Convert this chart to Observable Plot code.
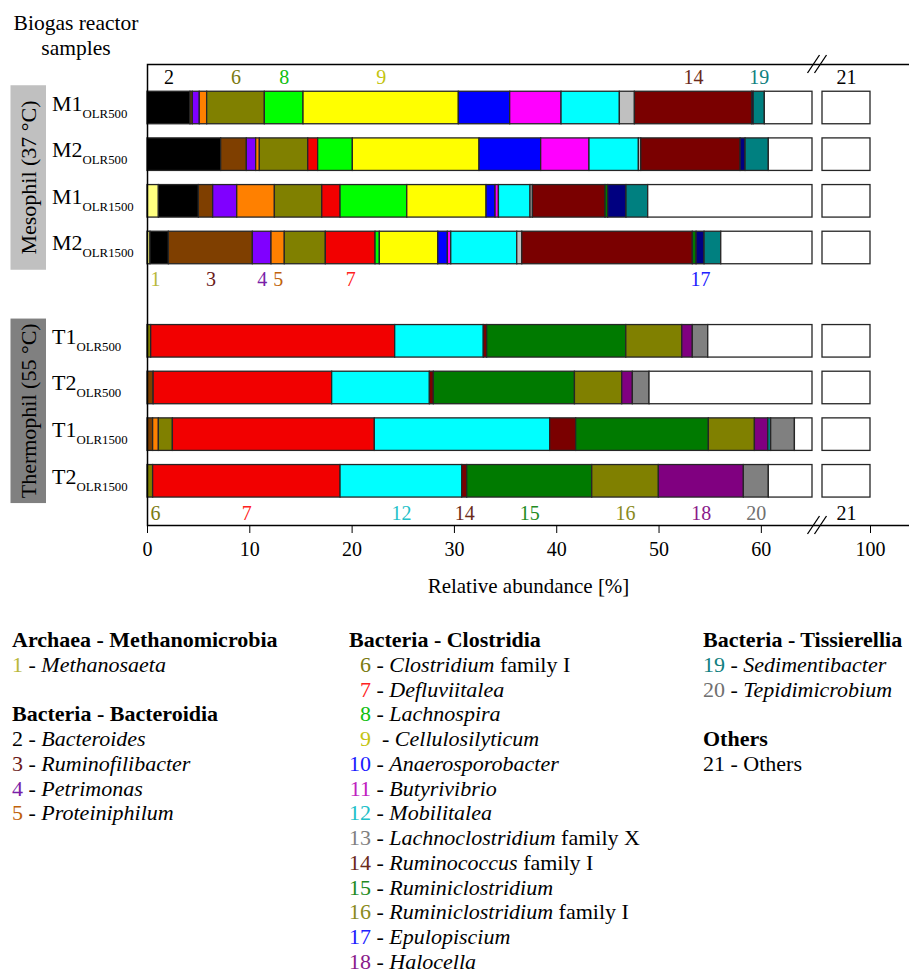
<!DOCTYPE html>
<html>
<head>
<meta charset="utf-8">
<script src="https://cdn.jsdelivr.net/npm/d3@7"></script>
<script src="https://cdn.jsdelivr.net/npm/@observablehq/plot@0.6"></script>
<style>
  body { margin: 0; background: #fff; font-family: "Liberation Serif", "Times New Roman", serif; color: #000; }
  #wrap { position: relative; width: 909px; height: 973px; overflow: hidden; }
  .lg-col { position: absolute; top: 628px; font-size: 22px; line-height: 24.75px; white-space: nowrap; }
  .lg-col .head { font-weight: bold; }
  .lg-col .num2 { display: inline-block; width: 22px; text-align: right; }
  .lg-col i { font-style: italic; }
</style>
</head>
<body>
<div id="wrap">
  <div id="chart"></div>
</div>
<script>
// Reactor samples (top to bottom order of the stacked bars)
const sampleBase = ["M1", "M2", "M1", "M2", "T1", "T2", "T1", "T2"];
const sampleSub = ["OLR500", "OLR500", "OLR1500", "OLR1500", "OLR500", "OLR500", "OLR1500", "OLR1500"];
const samples = sampleBase.map((b, i) => b + "_" + sampleSub[i]);

// Taxa 1–20 (21 = Others)
const taxonIds = [1, 2, 3, 4, 5, 6, 7, 8, 9, 10, 11, 12, 13, 14, 15, 16, 17, 18, 19, 20, 21];
const taxonGenus = ["Methanosaeta", "Bacteroides", "Ruminofilibacter", "Petrimonas", "Proteiniphilum",
  "Clostridium", "Defluviitalea", "Lachnospira", "Cellulosilyticum", "Anaerosporobacter",
  "Butyrivibrio", "Mobilitalea", "Lachnoclostridium", "Ruminococcus", "Ruminiclostridium",
  "Ruminiclostridium", "Epulopiscium", "Halocella", "Sedimentibacter", "Tepidimicrobium", "Others"];
const taxonSuffix = ["", "", "", "", "", "family I", "", "", "", "", "", "", "family X", "family I", "",
  "family I", "", "", "", "", ""];
const fillColors = ["#ffff80", "#000000", "#7f3f00", "#8000ff", "#ff8000", "#808000", "#f20000", "#00ff00",
  "#ffff00", "#0000ff", "#ff00ff", "#00ffff", "#c0c0c0", "#7a0000", "#007a00", "#808000", "#000080",
  "#800080", "#008080", "#808080", "#ffffff"];
const labelColors = ["#b8b83a", "#000000", "#6b1a1a", "#7a1fa8", "#c0620a", "#7a7a10", "#ff2020", "#10c010",
  "#c4c410", "#1a1aff", "#c020c0", "#20c0c8", "#808080", "#6b2a1a", "#228b22", "#8a8a20", "#2020ff",
  "#8a1a8a", "#108080", "#707070", "#000000"];

// Relative abundance [%] of taxa 1–20 per sample
const m1Olr500 = [0, 4.2, 0.23, 0.68, 0.72, 5.64, 0, 3.78, 15.18, 5.02, 5.02, 5.7, 1.47, 11.46, 0, 0, 0.15, 0, 1.09, 0];
const m2Olr500 = [0, 7.2, 2.51, 0.91, 0.36, 4.73, 0.97, 3.39, 12.38, 6.03, 4.72, 4.83, 0.23, 9.71, 0, 0, 0.49, 0, 2.27, 0];
const m1Olr1500 = [1.11, 3.91, 1.4, 2.35, 3.68, 4.63, 1.79, 6.52, 7.75, 0.88, 0.33, 3.09, 0.23, 7.1, 0.26, 0, 1.79, 0, 2.12, 0];
const m2Olr1500 = [0.29, 1.8, 8.21, 1.82, 1.3, 4.01, 4.86, 0.42, 5.71, 0.94, 0.33, 6.45, 0.49, 16.67, 0.37, 0, 0.78, 0, 1.63, 0];
const t1Olr500 = [0, 0, 0, 0, 0, 0.36, 23.85, 0, 0, 0, 0, 8.66, 0, 0.33, 13.6, 5.47, 0, 1.03, 0, 1.51];
const t2Olr500 = [0, 0, 0.6, 0, 0, 0, 17.45, 0, 0, 0, 0, 9.55, 0, 0.39, 13.79, 4.62, 0, 1.04, 0, 1.63];
const t1Olr1500 = [0, 0, 0.55, 0, 0.56, 1.37, 19.74, 0, 0, 0, 0, 17.14, 0, 2.54, 12.97, 4.5, 0, 1.3, 0.29, 2.32];
const t2Olr1500 = [0, 0, 0, 0, 0, 0.55, 18.32, 0, 0, 0, 0, 11.89, 0, 0.49, 12.22, 6.51, 0, 8.31, 0, 2.44];
const abundances = [m1Olr500, m2Olr500, m1Olr1500, m2Olr1500, t1Olr500, t2Olr500, t1Olr1500, t2Olr1500];

// Taxon number labels above / below particular bars
const topLabelTaxa = [2, 6, 8, 9, 14, 19];
const mesoBottomLabelTaxa = [1, 3, 4, 5, 7, 17];
const thermoBottomLabelTaxa = [6, 7, 12, 14, 15, 16, 18, 20];

// x axis ticks and the broken-axis limits
const xTicks = [0, 10, 20, 30, 40, 50, 60, 100];
const BREAK_LO = 65;
const BREAK_HI = 95.3;

// Build stacked segments
const segments = [];
const others = [];
samples.forEach((s, i) => {
  let acc = 0;
  abundances[i].forEach((v, k) => {
    if (v > 0) {
      segments.push({sample: s, taxon: taxonIds[k], x1: acc, x2: acc + v, color: fillColors[k]});
      acc += v;
    }
  });
  // "Others" fills the remainder up to 100 %, split by the axis break
  others.push({sample: s, x1: acc, x2: BREAK_LO}, {sample: s, x1: BREAK_HI, x2: 100});
});

function labelsFor(sample, taxa) {
  return taxa.map(t => {
    const seg = segments.find(d => d.sample === sample && d.taxon === t);
    const lead = seg.x1 === 0 && seg.x2 - seg.x1 < 1;
    return {sample, taxon: t, x: lead ? 0 : (seg.x1 + seg.x2) / 2, lead, color: labelColors[t - 1]};
  });
}
const othersX = (BREAK_HI + 100) / 2;
const topLabels = labelsFor("M1_OLR500", topLabelTaxa)
  .concat([{sample: "M1_OLR500", taxon: 21, x: othersX, lead: false, color: labelColors[20]}]);
const bottomLabels = labelsFor("M2_OLR1500", mesoBottomLabelTaxa)
  .concat(labelsFor("T2_OLR1500", thermoBottomLabelTaxa))
  .concat([{sample: "T2_OLR1500", taxon: 21, x: othersX, lead: false, color: labelColors[20]}]);

const yDomain = samples.slice(0, 4).concat(["gap"], samples.slice(4));

const W = 909, H = 612;
const chart = Plot.plot({
  width: W,
  height: H,
  marginLeft: 147,
  marginRight: 0,
  marginTop: 64,
  marginBottom: H - 525,
  style: {fontFamily: "'Liberation Serif', 'Times New Roman', serif", fontSize: "20px", background: "#fff", color: "#000"},
  x: {
    type: "linear",
    domain: [0, BREAK_LO, BREAK_HI, 100],
    range: [147, 812, 822, 870],
    ticks: xTicks,
    tickSize: 8,
    tickPadding: 8,
    label: null
  },
  y: {type: "band", domain: yDomain, range: [77.1, 511.2], padding: 0.303, round: false, axis: null},
  color: {type: "identity"},
  marks: [
    Plot.barX(segments, {x1: "x1", x2: "x2", y: "sample", fill: "color", stroke: "#262626", strokeWidth: 1.3}),
    Plot.barX(others, {x1: "x1", x2: "x2", y: "sample", fill: "#ffffff", stroke: "#262626", strokeWidth: 1.3}),
    Plot.text(topLabels.filter(d => !d.lead), {x: "x", y: "sample", text: d => String(d.taxon), fill: "color", dy: -30}),
    Plot.text(bottomLabels.filter(d => !d.lead), {x: "x", y: "sample", text: d => String(d.taxon), fill: "color", dy: 32}),
    Plot.text(bottomLabels.filter(d => d.lead), {x: "x", y: "sample", text: d => String(d.taxon), fill: "color", dy: 32, dx: 3, textAnchor: "start"}),
    Plot.frame({stroke: "#000", strokeWidth: 1.5, insetRight: -4}),
    Plot.text(["Relative abundance [%]"], {text: d => d, frameAnchor: "bottom", dy: 67, fontSize: 21})
  ]
});
document.getElementById("chart").appendChild(chart);

// Group boxes, sample labels with subscripts, title and break marks
const svg = d3.select(chart);
const ys = chart.scale("y");
const xs = chart.scale("x");
const bw = ys.bandwidth;
const yOf = s => ys.apply(s);

const lab = svg.append("g")
  .attr("font-family", "'Liberation Serif', 'Times New Roman', serif")
  .attr("text-anchor", "start")
  .attr("fill", "#000");

const groups = [
  {name: "Mesophil (37 °C)", from: samples[0], to: samples[3], fill: "#c0c0c0"},
  {name: "Thermophil (55 °C)", from: samples[4], to: samples[7], fill: "#808080"}
];
groups.forEach(g => {
  const y0 = yOf(g.from) - 6, y1 = yOf(g.to) + bw + 6;
  lab.append("rect").attr("x", 10.5).attr("y", y0).attr("width", 35.5).attr("height", y1 - y0).attr("fill", g.fill);
  lab.append("text").attr("transform", `translate(${29},${(y0 + y1) / 2}) rotate(-90)`)
    .attr("text-anchor", "middle").attr("dy", "0.34em").attr("font-size", 22).text(g.name);
});

samples.forEach((s, i) => {
  const t = lab.append("text").attr("text-anchor", "start")
    .attr("x", 52).attr("y", yOf(s) + bw / 2 + 3).attr("font-size", 22);
  t.append("tspan").text(sampleBase[i]);
  t.append("tspan").attr("font-size", 12.8).attr("dy", 7).text(sampleSub[i]);
});

const title = lab.append("text").attr("text-anchor", "middle").attr("font-size", 21.5);
title.append("tspan").attr("x", 76).attr("y", 30).text("Biogas reactor");
title.append("tspan").attr("x", 76).attr("y", 55).text("samples");

const bx = (xs.apply(BREAK_LO) + xs.apply(BREAK_HI)) / 2;
[64, 525].forEach(yy => {
  [-3.5, 3.5].forEach(off => {
    lab.append("line").attr("x1", bx + off - 6).attr("y1", yy + 9).attr("x2", bx + off + 6).attr("y2", yy - 9)
      .attr("stroke", "#000").attr("stroke-width", 1.3);
  });
});

// Legend
const legendCols = [
  {left: 12, pad: false, rows: [["h", "Archaea - Methanomicrobia"], 1, null, ["h", "Bacteria - Bacteroidia"], 2, 3, 4, 5]},
  {left: 349, pad: true, rows: [["h", "Bacteria - Clostridia"], 6, 7, 8, 9, 10, 11, 12, 13, 14, 15, 16, 17, 18]},
  {left: 703, pad: false, rows: [["h", "Bacteria - Tissierellia"], 19, 20, null, ["h", "Others"], 21]}
];
const wrap = d3.select("#wrap");
legendCols.forEach(c => {
  const col = wrap.append("div").attr("class", "lg-col").style("left", c.left + "px");
  c.rows.forEach(r => {
    const line = col.append("div");
    if (r === null) { line.html("&nbsp;"); return; }
    if (Array.isArray(r)) { line.attr("class", "head").text(r[1]); return; }
    const k = r - 1;
    const num = line.append("span").style("color", labelColors[k]).text(String(r));
    if (c.pad) num.attr("class", "num2");
    line.append("span").text(r === 9 ? "\u00a0 - " : " - ");
    if (r === 21) { line.append("span").text(taxonGenus[k]); return; }
    line.append("i").text(taxonGenus[k]);
    if (taxonSuffix[k]) line.append("span").text(" " + taxonSuffix[k]);
  });
});
</script>
</body>
</html>
